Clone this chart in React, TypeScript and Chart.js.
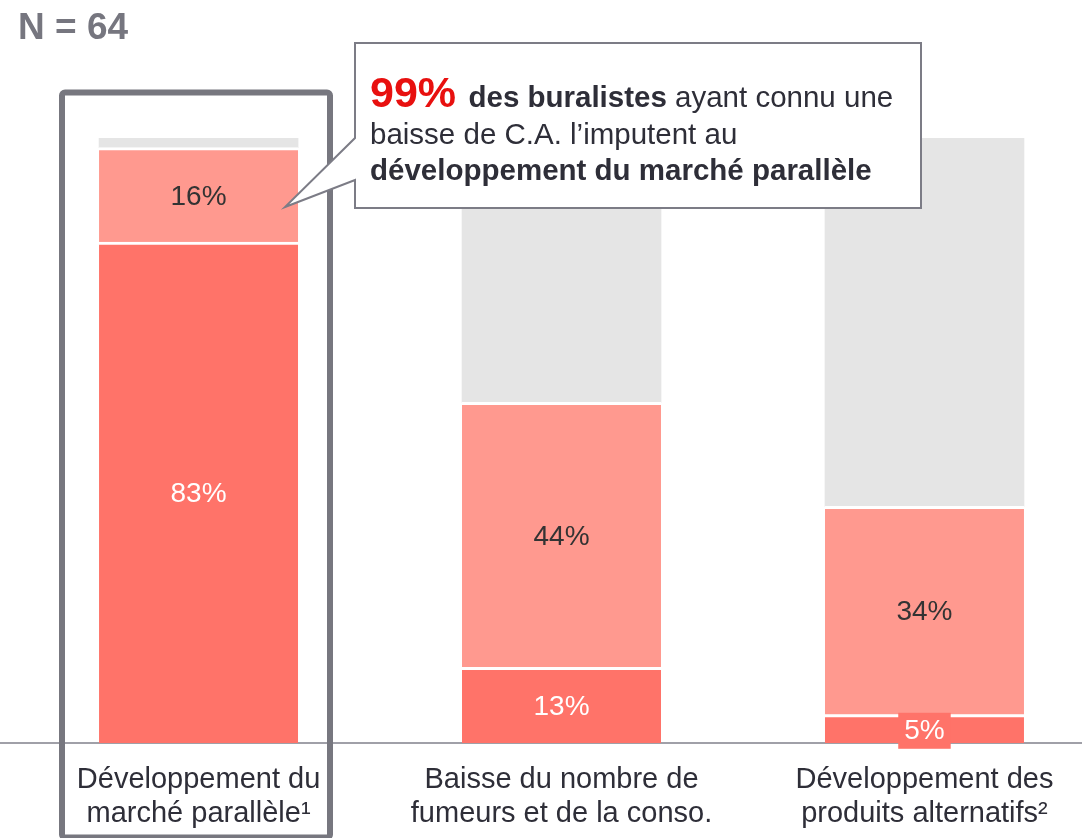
import React, { useEffect, useRef } from "react";
import { Chart, registerables } from "chart.js";

Chart.register(...registerables);

const categories: string[][] = [
  ["Développement du", "marché parallèle¹"],
  ["Baisse du nombre de", "fumeurs et de la conso."],
  ["Développement des", "produits alternatifs²"],
];
const positions = [0, 1, 2];
const majorValues = [82.8, 12.5, 4.7];
const minorValues = [15.6, 43.8, 34.4];
const restValues = [1.6, 43.7, 60.9];
const sampleLabel = "N = 64";
const calloutLead = "99%";
const calloutLines = [
  [{ t: "  des buralistes", b: true }, { t: " ayant connu une", b: false }],
  [{ t: "baisse de C.A. l’imputent au", b: false }],
  [{ t: "développement du marché parallèle", b: true }],
];

const FONT = "'Liberation Sans', Arial, sans-serif";
const DARK = "#FF7369";
const LIGHT = "#FF998F";
const GREY = "#E5E5E5";
const TEXT = "#2E2E38";

const labelPlugin = {
  id: "segLabels",
  afterDatasetsDraw(chart: any) {
    const ctx = chart.ctx;
    ctx.save();
    ctx.font = `28px ${FONT}`;
    ctx.textAlign = "center";
    ctx.textBaseline = "middle";
    [0, 1].forEach((di) => {
      const meta = chart.getDatasetMeta(di);
      const vals = di === 0 ? majorValues : minorValues;
      meta.data.forEach((el: any, i: number) => {
        const txt = Math.round(vals[i]) + "%";
        const cy = (el.y + el.base) / 2 + 2;
        const h = Math.abs(el.base - el.y);
        if (h < 34) {
          const w = ctx.measureText(txt).width + 12;
          ctx.fillStyle = di === 0 ? DARK : LIGHT;
          ctx.fillRect(el.x - w / 2, cy - 18, w, 36);
        }
        ctx.fillStyle = di === 0 ? "#FFFFFF" : "#333333";
        ctx.fillText(txt, el.x, cy);
      });
    });
    ctx.restore();
  },
};

const overlayPlugin = {
  id: "overlay",
  afterDraw(chart: any) {
    const ctx = chart.ctx;
    ctx.save();
    ctx.font = `bold 37px ${FONT}`;
    ctx.fillStyle = "#76767F";
    ctx.textAlign = "left";
    ctx.textBaseline = "alphabetic";
    ctx.fillText(sampleLabel, 18, 39);

    ctx.strokeStyle = "#77777F";
    ctx.lineWidth = 6;
    ctx.lineJoin = "round";
    ctx.beginPath();
    (ctx as any).roundRect(62, 92.5, 268, 745, 3);
    ctx.stroke();

    ctx.beginPath();
    ctx.moveTo(355, 43);
    ctx.lineTo(921, 43);
    ctx.lineTo(921, 208);
    ctx.lineTo(355, 208);
    ctx.lineTo(355, 180);
    ctx.lineTo(285, 207);
    ctx.lineTo(355, 138);
    ctx.closePath();
    ctx.fillStyle = "#FFFFFF";
    ctx.fill();
    ctx.strokeStyle = "#7C7C86";
    ctx.lineWidth = 2;
    ctx.lineJoin = "miter";
    ctx.stroke();

    let x = 370;
    ctx.font = `bold 43px ${FONT}`;
    ctx.fillStyle = "#E8100F";
    ctx.fillText(calloutLead, x, 107);
    x += ctx.measureText(calloutLead).width - 4;
    const baselines = [107, 144, 180];
    calloutLines.forEach((line, li) => {
      let cx = li === 0 ? x : 370;
      line.forEach((seg) => {
        ctx.font = `${seg.b ? "bold " : ""}29.5px ${FONT}`;
        ctx.fillStyle = TEXT;
        ctx.fillText(seg.t, cx, baselines[li]);
        cx += ctx.measureText(seg.t).width;
      });
    });
    ctx.restore();
  },
};

export default function App() {
  const ref = useRef<HTMLCanvasElement>(null);
  useEffect(() => {
    document.body.style.margin = "0";
    const mk = (vals: number[]) => positions.map((p, i) => ({ x: p, y: vals[i] }));
    const chart = new Chart(ref.current as HTMLCanvasElement, {
      type: "bar",
      data: {
        datasets: [
          {
            data: mk(majorValues) as any,
            backgroundColor: DARK,
            borderColor: "#FFFFFF",
            borderWidth: { top: 3, bottom: 0, left: 0, right: 0 } as any,
            borderSkipped: false,
            barThickness: 199,
          },
          {
            data: mk(minorValues) as any,
            backgroundColor: LIGHT,
            borderColor: "#FFFFFF",
            borderWidth: { top: 3, bottom: 0, left: 0, right: 0 } as any,
            borderSkipped: false,
            barThickness: 199,
          },
          {
            data: mk(restValues) as any,
            backgroundColor: GREY,
            borderWidth: 0,
            barThickness: 199,
          },
        ],
      },
      options: {
        responsive: false,
        animation: false,
        layout: { padding: { top: 138, bottom: 0, left: 0, right: 0 } },
        plugins: { legend: { display: false }, tooltip: { enabled: false } },
        scales: {
          x: {
            type: "linear",
            stacked: true,
            offset: false,
            min: -0.547,
            max: 2.434,
            grid: { display: false, drawTicks: false, offset: false },
            border: { display: true, color: "#A0A0A8", width: 2 },
            afterBuildTicks: (scale: any) => {
              scale.ticks = positions.map((v) => ({ value: v }));
            },
            afterFit: (scale: any) => {
              scale.height = 95;
              scale.paddingLeft = 0;
              scale.paddingRight = 0;
            },
            ticks: {
              callback: (v: any) => categories[v as number],
              font: { family: FONT, size: 29, lineHeight: 1.17 },
              color: TEXT,
              padding: 20,
              maxRotation: 0,
              autoSkip: false,
            },
          },
          y: { display: false, stacked: true, min: 0, max: 100 },
        },
      } as any,
      plugins: [labelPlugin, overlayPlugin],
    });
    return () => chart.destroy();
  }, []);
  return (
    <div style={{ width: 1082, height: 838, position: "relative" }}>
      <canvas ref={ref} width={1082} height={838} />
    </div>
  );
}
